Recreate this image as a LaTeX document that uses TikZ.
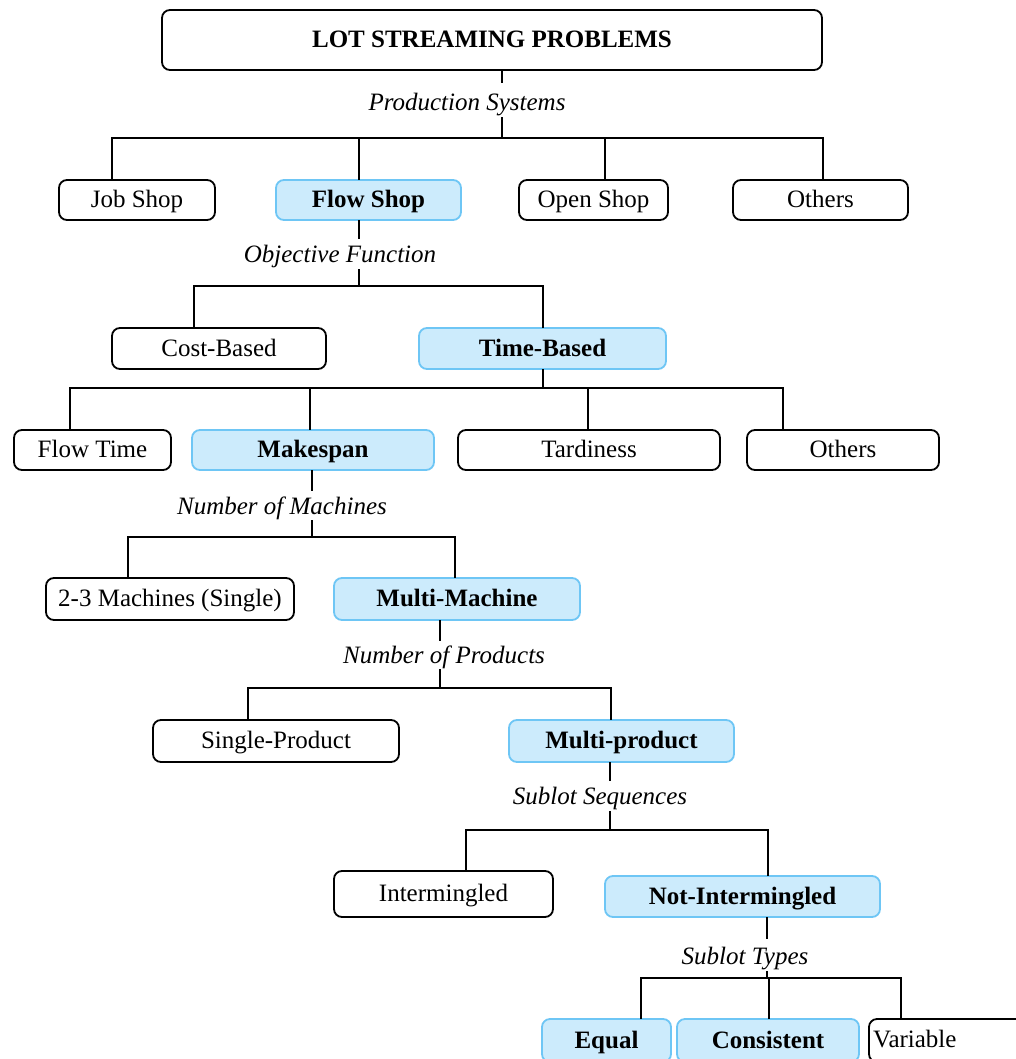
\documentclass[tikz,border=0pt]{standalone}
\usepackage{fontspec}
\setmainfont{Liberation Serif}
\definecolor{fillblue}{RGB}{204,235,252}
\definecolor{edgeblue}{RGB}{110,198,245}
\begin{document}
\begin{tikzpicture}[x=1pt,y=-1pt,
  font=\fontsize{25}{30}\selectfont,
  txt/.style={text height=19pt,text depth=4pt},
  box/.style={txt,draw=black,line width=1.8pt,rounded corners=8pt,inner sep=0pt,fill=white},
  hbox/.style={txt,draw=edgeblue,line width=1.8pt,rounded corners=8pt,inner sep=0pt,fill=fillblue,font=\fontsize{25}{30}\selectfont\bfseries},
  lab/.style={txt,inner sep=0pt,font=\fontsize{25}{30}\selectfont\itshape},
  conn/.style={line width=1.8pt,line cap=rect}]
\clip (0,0) rectangle (1016,1059);
\fill[white] (0,0) rectangle (1016,1059);
% box helper: style, name, x1, x2, y1, y2, text
\newcommand{\bx}[7]{\node[#1,minimum width=#4-#3,minimum height=#6-#5] (#2) at ({(#3+#4)/2},{(#5+#6)/2}) {#7};}
% title
\bx{box,font=\fontsize{25}{30}\selectfont\bfseries}{title}{162}{822}{10}{70}{LOT STREAMING PROBLEMS}
\node[lab,minimum height=35pt] (l1) at (467,103) {Production Systems};
% row 1
\bx{box}{job}{59}{215}{180}{220}{Job Shop}
\bx{hbox}{flow}{276}{461}{180}{220}{Flow Shop}
\bx{box}{open}{519}{668}{180}{220}{Open Shop}
\bx{box}{othA}{733}{908}{180}{220}{Others}
\coordinate (j1) at (502,138);
\draw[conn] (title.south -| j1) -- (502,82);
\draw[conn] (502,118) -- (j1);
\coordinate (a1) at (112,138);
\coordinate (a2) at (359,138);
\coordinate (a3) at (605,138);
\coordinate (a4) at (823,138);
\draw[conn] (a1) -- (a4);
\draw[conn] (a1) -- (a1 |- job.north);
\draw[conn] (a2) -- (a2 |- flow.north);
\draw[conn] (a3) -- (a3 |- open.north);
\draw[conn] (a4) -- (a4 |- othA.north);
% row 2
\node[lab,minimum height=32pt] (l2) at (340,255) {Objective Function};
\bx{box}{cost}{112}{326}{328}{369}{Cost-Based}
\bx{hbox}{time}{419}{666}{328}{369}{Time-Based}
\coordinate (j2) at (359,286);
\draw[conn] (flow.south -| j2) -- (359,238);
\draw[conn] (359,270) -- (j2);
\coordinate (b1) at (194,286);
\coordinate (b2) at (543,286);
\draw[conn] (b1) -- (b2);
\draw[conn] (b1) -- (b1 |- cost.north);
\draw[conn] (b2) -- (b2 |- time.north);
% row 3
\bx{box}{ft}{14}{171}{430}{470}{Flow Time}
\bx{hbox}{mk}{192}{434}{430}{470}{Makespan}
\bx{box}{td}{458}{720}{430}{470}{Tardiness}
\bx{box}{othB}{747}{939}{430}{470}{Others}
\coordinate (j3) at (543,388);
\draw[conn] (time.south -| j3) -- (j3);
\coordinate (c1) at (70,388);
\coordinate (c2) at (310,388);
\coordinate (c3) at (588,388);
\coordinate (c4) at (783,388);
\draw[conn] (c1) -- (c4);
\draw[conn] (c1) -- (c1 |- ft.north);
\draw[conn] (c2) -- (c2 |- mk.north);
\draw[conn] (c3) -- (c3 |- td.north);
\draw[conn] (c4) -- (c4 |- othB.north);
% row 4
\node[lab,minimum height=32pt] (l3) at (282,507) {Number of Machines};
\bx{box}{tt}{46}{294}{578}{620}{2-3 Machines (Single)}
\bx{hbox}{mm}{334}{580}{578}{620}{Multi-Machine}
\coordinate (j4) at (312,537);
\draw[conn] (mk.south -| j4) -- (312,490);
\draw[conn] (312,521) -- (j4);
\coordinate (d1) at (128,537);
\coordinate (d2) at (455,537);
\draw[conn] (d1) -- (d2);
\draw[conn] (d1) -- (d1 |- tt.north);
\draw[conn] (d2) -- (d2 |- mm.north);
% row 5
\node[lab,minimum height=30pt] (l4) at (444,656) {Number of Products};
\bx{box}{sp}{153}{399}{720}{762}{Single-Product}
\bx{hbox}{mp}{509}{734}{720}{762}{Multi-product}
\coordinate (j5) at (440,688);
\draw[conn] (mm.south -| j5) -- (440,640);
\draw[conn] (440,670) -- (j5);
\coordinate (e1) at (248,688);
\coordinate (e2) at (611,688);
\draw[conn] (e1) -- (e2);
\draw[conn] (e1) -- (e1 |- sp.north);
\draw[conn] (e2) -- (e2 |- mp.north);
% row 6
\node[lab,minimum height=32pt] (l5) at (600,797) {Sublot Sequences};
\bx{box}{im}{334}{553}{871}{917}{Intermingled}
\bx{hbox}{ni}{605}{880}{876}{917}{Not-Intermingled}
\coordinate (j6) at (610,830);
\draw[conn] (mp.south -| j6) -- (610,780);
\draw[conn] (610,812) -- (j6);
\coordinate (f1) at (466,830);
\coordinate (f2) at (768,830);
\draw[conn] (f1) -- (f2);
\draw[conn] (f1) -- (f1 |- im.north);
\draw[conn] (f2) -- (f2 |- ni.north);
% row 7
\node[lab,minimum height=34pt] (l6) at (745,957) {Sublot Types};
\bx{hbox}{eq}{542}{671}{1019}{1062}{Equal}
\bx{hbox}{cs}{677}{859}{1019}{1062}{Consistent}
\bx{box}{vr}{869}{1050}{1019}{1062}{}
\node[txt,inner sep=0pt,anchor=west] (vrt) at (873,1040) {Variable};
\coordinate (j7) at (767,978);
\draw[conn] (ni.south -| j7) -- (767,938);
\draw[conn] (767,972) -- (j7);
\coordinate (g1) at (641,978);
\coordinate (g2) at (769,978);
\coordinate (g3) at (901,978);
\draw[conn] (g1) -- (g3);
\draw[conn] (g1) -- (g1 |- eq.north);
\draw[conn] (g2) -- (g2 |- cs.north);
\draw[conn] (g3) -- (g3 |- vr.north);
\end{tikzpicture}
\end{document}
